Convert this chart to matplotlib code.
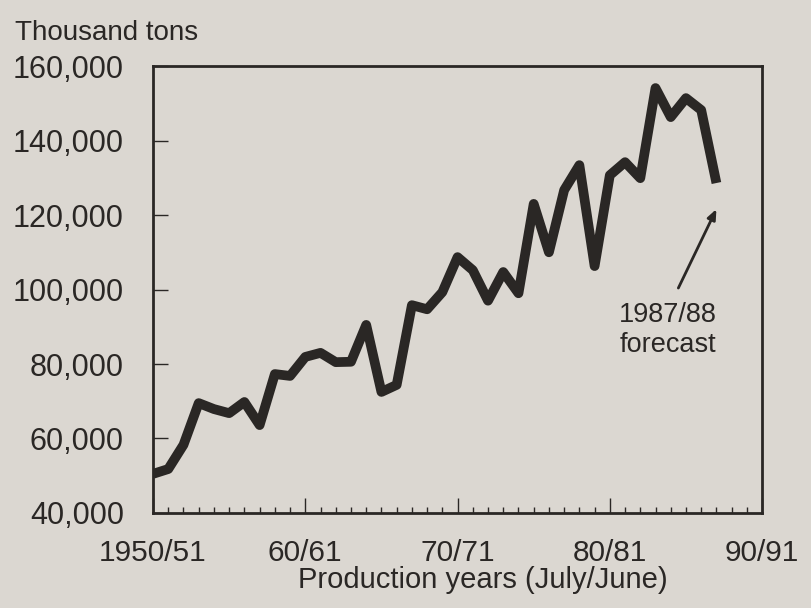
import numpy as np
import matplotlib
matplotlib.use("Agg")
import matplotlib.pyplot as plt
from matplotlib.ticker import FuncFormatter, MultipleLocator

# production years 1950/51 .. 1987/88 (last one is forecast)
years = np.arange(1950, 1988)
production = [50500, 51800, 58300, 69500, 67900, 66800, 69800, 63600, 77300, 76800,
              81900, 83000, 80500, 80600, 90500, 72500, 74400, 95800, 94700, 99300,
              108700, 105200, 97000, 104700, 99000, 123000, 110000, 126700, 133400, 106300,
              130700, 134200, 129900, 154100, 146300, 151400, 148200, 128600]

xtick_pos = [1950, 1960, 1970, 1980, 1990]
xtick_labels = ["1950/51", "60/61", "70/71", "80/81", "90/91"]
ytick_pos = [40000, 60000, 80000, 100000, 120000, 140000, 160000]

bg = "#dbd7d1"
ink = "#2a2725"

plt.rcParams['font.family'] = ['Liberation Sans', 'DejaVu Sans']

fig = plt.figure(figsize=(8.11, 6.08), dpi=100, facecolor=bg)
ax = fig.add_axes([0.1887, 0.1563, 0.751, 0.735])
ax.set_facecolor(bg)

ax.plot(years, production, color=ink, lw=7, solid_joinstyle='round', solid_capstyle='butt')

ax.set_xlim(1950, 1990)
ax.set_ylim(40000, 160000)

ax.set_xticks(xtick_pos)
ax.set_xticklabels(xtick_labels)
ax.xaxis.set_minor_locator(MultipleLocator(1))
ax.set_yticks(ytick_pos)
ax.yaxis.set_major_formatter(FuncFormatter(lambda v, p: f"{int(v):,}"))

ax.tick_params(axis='x', which='major', direction='in', length=11, width=1, pad=19,
               labelsize=21.5, colors=ink)
ax.tick_params(axis='x', which='minor', direction='in', length=4, width=1, color=ink)
ax.tick_params(axis='y', which='major', direction='in', length=11, width=1, pad=21,
               labelsize=22, colors=ink)

for s in ax.spines.values():
    s.set_linewidth(2)
    s.set_color(ink)

ax.text(0.542, -0.15, "Production years (July/June)", transform=ax.transAxes,
        ha='center', va='center', fontsize=21, color=ink)
fig.text(15 / 811, 1 - 33 / 608, "Thousand tons", ha='left', va='center',
         fontsize=20, color=ink)

# forecast note with arrow
ax.annotate("", xy=(1987.0, 121600), xytext=(1984.5, 100400),
            arrowprops=dict(arrowstyle='-|>,head_length=0.6,head_width=0.25',
                            color=ink, lw=2, shrinkA=0, shrinkB=0))
ax.text(1983.8, 89000, "1987/88\nforecast", ha='center', va='center',
        fontsize=19.5, color=ink, linespacing=1.2)

fig.savefig("out.png", dpi=100, facecolor=bg)
